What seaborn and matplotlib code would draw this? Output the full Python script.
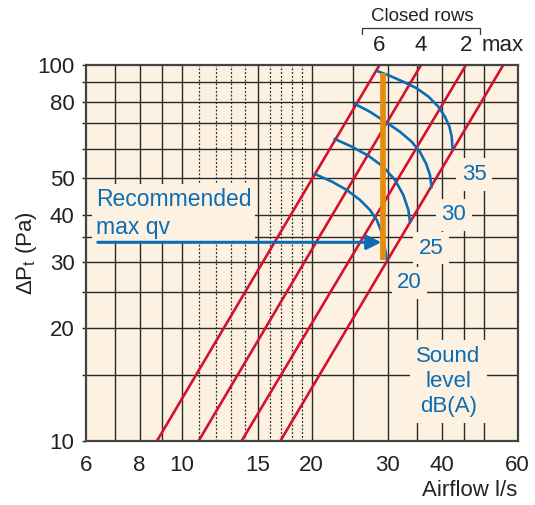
import pandas as pd
import matplotlib.pyplot as plt
import matplotlib.transforms as mtransforms
from matplotlib.ticker import FixedLocator, FixedFormatter, NullLocator
import seaborn as sns

# Duct lines: airflow (l/s) at 10 Pa and at 100 Pa, per number of closed rows
rows_labels = ['6', '4', '2', 'max']
q_at_10 = [8.77, 10.95, 13.77, 16.93]
q_at_100 = [28.7, 35.8, 45.5, 55.5]

# Sound level curves, dB(A)
levels = [20, 25, 30, 35]
q_20 = [20.4, 22.3, 24.1, 25.9, 27.3, 28.3, 29.0, 29.4, 29.9]
dp_20 = [51.3, 49.0, 46.6, 43.8, 41.2, 38.8, 36.1, 33.6, 30.3]
q_25 = [22.6, 24.8, 27.1, 29.3, 31.2, 32.6, 33.5, 33.8]
dp_25 = [63.7, 60.7, 57.4, 53.7, 49.5, 45.2, 41.2, 38.2]
q_30 = [25.2, 27.3, 29.6, 32.0, 34.1, 35.6, 36.8, 37.6, 37.9]
dp_30 = [78.9, 75.2, 70.8, 66.6, 62.6, 58.9, 54.8, 51.0, 47.3]
q_35 = [28.3, 30.4, 32.6, 35.0, 37.3, 39.3, 40.7, 41.7, 42.2, 42.4]
dp_35 = [96.6, 93.7, 90.4, 86.9, 82.5, 77.6, 73.0, 68.6, 64.6, 59.8]

# label positions of the level numbers (q, dp)
level_label_q = [33.7, 37.8, 42.7, 47.6]
level_label_dp = [26.4, 32.6, 40.0, 51.2]

# recommended max airflow
rec_q = 29.25
rec_dp = [30.3, 95.2]
arrow_dp = 33.8
arrow_q = [6.4, 29.0]

# grid and ticks
x_solid = [7, 8, 9, 10, 15, 20, 25, 30, 35, 40, 45, 50]
x_dotted = [11, 12, 13, 14, 16, 17, 18, 19]
y_lines = [10, 15, 20, 25, 30, 35, 40, 50, 60, 70, 80, 90, 100]
x_ticks = [6, 8, 10, 15, 20, 30, 40, 60]
y_ticks = [10, 20, 30, 40, 50, 80, 100]

red = '#d4122b'
blue = '#0b6db4'
orange = '#e58c0c'
bg = '#fdf2e2'
grid_c = '#2a2a2a'
txt_c = '#222222'

sns.set_style('white')
plt.rcParams['font.family'] = ['Liberation Sans', 'DejaVu Sans']
plt.rcParams['mathtext.fontset'] = 'custom'
plt.rcParams['mathtext.rm'] = 'Liberation Sans'

fig = plt.figure(figsize=(5.35, 5.05), dpi=100)
ax = fig.add_axes([0.1602, 0.1267, 0.8075, 0.744])
ax.set_facecolor(bg)
ax.set_xscale('log')
ax.set_yscale('log')
ax.set_xlim(6, 60)
ax.set_ylim(10, 100)

# grid
ax.vlines(x_solid, 10, 100, color=grid_c, lw=1.0, zorder=1)
ax.vlines(x_dotted, 10, 100, color=grid_c, lw=0.9, linestyles=(0, (1.5, 1.5)), zorder=1)
ax.hlines(y_lines[1:-1], 6, 60, color=grid_c, lw=1.0, zorder=1)

# red duct lines
red_df = pd.DataFrame({
    'q': q_at_10 + q_at_100,
    'dp': [10] * 4 + [100] * 4,
    'rows': rows_labels + rows_labels,
})
sns.lineplot(data=red_df, x='q', y='dp', units='rows', estimator=None,
             color=red, lw=1.9, ax=ax, zorder=3)

# blue sound level curves
curves = {20: (q_20, dp_20), 25: (q_25, dp_25), 30: (q_30, dp_30), 35: (q_35, dp_35)}
blue_df = pd.concat([pd.DataFrame({'q': q, 'dp': dp, 'level': lv})
                     for lv, (q, dp) in curves.items()], ignore_index=True)
sns.lineplot(data=blue_df, x='q', y='dp', units='level', estimator=None, sort=False,
             color=blue, lw=1.9, ax=ax, zorder=4)

# orange recommended line
ax.plot([rec_q, rec_q], rec_dp, color=orange, lw=4.1, solid_capstyle='butt', zorder=5)
ax.annotate('', xy=(arrow_q[1], arrow_dp), xytext=(arrow_q[0], arrow_dp),
            arrowprops=dict(arrowstyle='-|>', color=blue, lw=2.2, mutation_scale=22,
                            shrinkA=0, shrinkB=0), zorder=6)

box = dict(boxstyle='square,pad=0.25', facecolor=bg, edgecolor='none')
for lv, xq, yd in zip(levels, level_label_q, level_label_dp):
    ax.text(xq, yd, str(lv), color=blue, fontsize=16, ha='center', va='center',
            bbox=box, zorder=2)
ax.text(41.5, 14.4, 'Sound\nlevel\ndB(A)', color=blue, fontsize=16, ha='center',
        va='center', linespacing=1.22, bbox=dict(boxstyle='square,pad=0.3', facecolor=bg,
                                                  edgecolor='none'), zorder=2)
ax.text(6.33, 40.4, 'Recommended\nmax qv', color=blue, fontsize=16.5, ha='left',
        va='center', linespacing=1.28, bbox=dict(boxstyle='square,pad=0.15', facecolor=bg,
                                                  edgecolor='none'), zorder=2)

# closed rows labels above the plot
tr = mtransforms.blended_transform_factory(ax.transData, ax.transAxes)
for lab, xq in zip(rows_labels, q_at_100):
    ax.text(xq, 1.0514, lab, transform=tr, fontsize=16, ha='center', va='center',
            color=txt_c)
ax.plot([26.2, 26.2, 49.2, 49.2], [1.083, 1.0985, 1.0985, 1.083], transform=tr,
        color='#333333', lw=0.9, clip_on=False)
ax.text(36.1, 1.1286, 'Closed rows', transform=tr, fontsize=13.5, ha='center',
        va='center', color=txt_c)

# axes, ticks
ax.xaxis.set_major_locator(FixedLocator(x_ticks))
ax.xaxis.set_major_formatter(FixedFormatter([str(v) for v in x_ticks]))
ax.xaxis.set_minor_locator(NullLocator())
ax.yaxis.set_major_locator(FixedLocator(y_lines))
ax.yaxis.set_major_formatter(FixedFormatter([str(v) if v in y_ticks else '' for v in y_lines]))
ax.yaxis.set_minor_locator(NullLocator())
ax.tick_params(axis='x', length=0, pad=10, labelsize=16, labelcolor=txt_c)
ax.tick_params(axis='y', length=3, width=1, color=grid_c, pad=5, labelsize=16,
               labelcolor=txt_c, left=True)
for s in ax.spines.values():
    s.set_color('#444444')
    s.set_linewidth(1.6)
    s.set_zorder(7)

ax.set_xlabel('Airflow l/s', fontsize=16, color=txt_c, ha='right', va='center')
ax.xaxis.set_label_coords(1.0, -0.133)
ax.set_ylabel(r'$\Delta$P$_\mathrm{t}$ (Pa)', fontsize=16, color=txt_c, va='center')
ax.yaxis.set_label_coords(-0.138, 0.5)

fig.savefig('out.png', dpi=100, facecolor='white')
